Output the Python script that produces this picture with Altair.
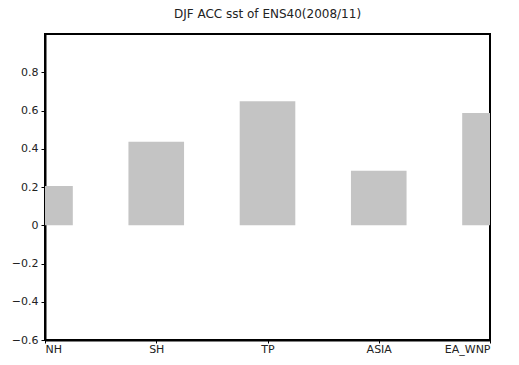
import altair as alt
import pandas as pd

regions = ["NH", "SH", "TP", "ASIA", "EA_WNP"]
acc = [0.205, 0.436, 0.648, 0.285, 0.587]
y_ticks = [-0.6, -0.4, -0.2, 0, 0.2, 0.4, 0.6, 0.8]

df = pd.DataFrame({
    "region": regions,
    "pos": list(range(len(regions))),
    "acc": acc,
})
df["x1"] = df["pos"] - 0.25
df["x2"] = df["pos"] + 0.25
df["zero"] = 0.0

label_expr = "[" + ",".join(f"'{r}'" for r in regions) + "][datum.value]"

bars = alt.Chart(df).mark_rect(
    clip=True, fill="#c4c4c4", stroke=None
).encode(
    x=alt.X("x1:Q",
            scale=alt.Scale(domain=[0, 4], nice=False, zero=False),
            axis=alt.Axis(values=[0, 1, 2, 3, 4], labelExpr=label_expr,
                          title=None, grid=False, domainColor="black",
                          domainWidth=2, tickColor="black", tickSize=3,
                          labelFont="DejaVu Sans", labelFontSize=11,
                          labelColor="#222", labelPadding=0)),
    x2="x2:Q",
    y=alt.Y("zero:Q",
            scale=alt.Scale(domain=[-0.6, 1.0], nice=False),
            axis=alt.Axis(values=y_ticks, title=None, grid=False,
                          format=".1~f",
                          labelExpr="replace(datum.label, '-', '\u2212')",
                          domainColor="black", domainWidth=2,
                          tickColor="black", tickSize=4,
                          labelFont="DejaVu Sans", labelFontSize=11,
                          labelColor="#222", labelPadding=3)),
    y2="acc:Q",
)

chart = bars.properties(
    width=445,
    height=306,
    title=alt.TitleParams("DJF ACC sst of ENS40(2008/11)", font="DejaVu Sans",
                          fontSize=12, fontWeight="normal", color="#222",
                          offset=13),
    autosize=alt.AutoSizeParams(type="none"),
    padding={"left": 37, "top": 26, "right": 21, "bottom": 17},
).configure_view(stroke="black", strokeWidth=2)

chart.save("out.html", embed_options={"renderer": "svg", "actions": False})
